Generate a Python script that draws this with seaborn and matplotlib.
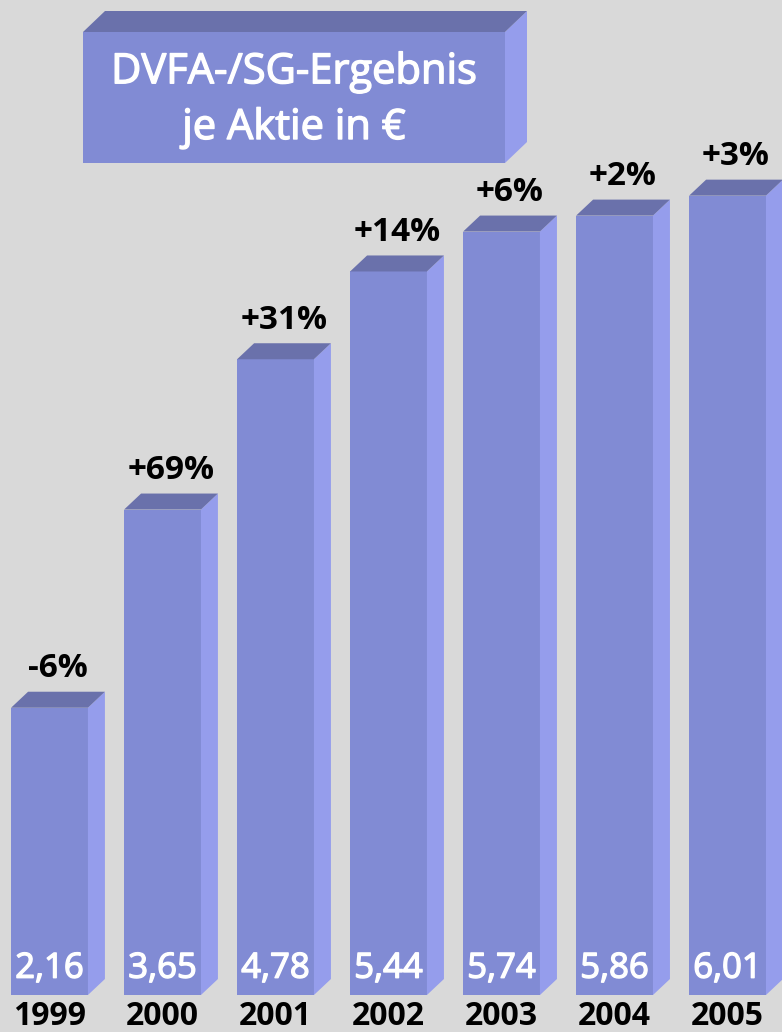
import numpy as np
import pandas as pd
import matplotlib
matplotlib.use('Agg')
import matplotlib.pyplot as plt
import matplotlib.patches as mpatches
import matplotlib.patheffects as pe
import seaborn as sns

# data
years = ['1999', '2000', '2001', '2002', '2003', '2004', '2005']
eps = [2.16, 3.65, 4.78, 5.44, 5.74, 5.86, 6.01]
change_pct = [-6, 69, 31, 14, 6, 2, 3]
title_lines = ['DVFA-/SG-Ergebnis', 'je Aktie in €']

# colours
bg = '#d9d9d9'
front = '#818bd4'
side = '#959dec'
top = '#6a71ab'

sns.set_theme(style='white')
plt.rcParams['font.family'] = ['Open Sans', 'DejaVu Sans']

W, H = 782, 1032
fig = plt.figure(figsize=(W / 100, H / 100), dpi=100, facecolor=bg)
ax = fig.add_axes([0, 0, 1, 1])
ax.set_facecolor(bg)

df = pd.DataFrame({'year': years, 'eps': eps})
sns.barplot(data=df, x='year', y='eps', color=front, saturation=1,
            width=0.68, ax=ax, linewidth=0)

# axis scaling: 113 px per category, 133 px per euro
ax.set_xlim(-0.438, 6.482)
ax.set_ylim(-0.278, 7.481)
ax.axis('off')

dx = 17 / 113
dy = 16 / 133

# thicken regular weight a bit (medium look)
white_med = [pe.withStroke(linewidth=1.0, foreground='white')]

for i, (p, v, pc) in enumerate(zip(ax.patches, eps, change_pct)):
    x0 = p.get_x()
    x1 = x0 + p.get_width()
    h = p.get_height()
    ax.add_patch(mpatches.Polygon([(x1, 0), (x1 + dx, dy), (x1 + dx, h + dy), (x1, h)],
                                  closed=True, facecolor=side, edgecolor='none'))
    ax.add_patch(mpatches.Polygon([(x0, h), (x1, h), (x1 + dx, h + dy), (x0 + dx, h + dy)],
                                  closed=True, facecolor=top, edgecolor='none'))
    cx = (x0 + x1 + dx) / 2
    ax.text(cx, h + dy + 0.05, f'{pc:+d}%', ha='center', va='bottom',
            fontsize=24, fontweight='bold', color='black')
    ax.text((x0 + x1) / 2, 0.07, f'{v:.2f}'.replace('.', ','), ha='center',
            va='bottom', fontsize=25, color='white', path_effects=white_med)
    ax.text((x0 + x1) / 2, -0.228, years[i], ha='center',
            va='baseline', fontsize=23, fontweight='bold', color='black')

# title box (pixel coordinates converted to figure fractions)
def fp(x, y):
    return (x / W, 1 - y / H)

bx0, bx1, by0, by1 = 83, 505, 32, 163
tdx, tdy = 22, 21
fig.patches.append(mpatches.Polygon([fp(bx0, by0), fp(bx1, by0), fp(bx1, by1), fp(bx0, by1)],
                                    closed=True, facecolor=front, edgecolor='none',
                                    transform=fig.transFigure))
fig.patches.append(mpatches.Polygon([fp(bx1, by0), fp(bx1 + tdx, by0 - tdy), fp(bx1 + tdx, by1 - tdy), fp(bx1, by1)],
                                    closed=True, facecolor=side, edgecolor='none',
                                    transform=fig.transFigure))
fig.patches.append(mpatches.Polygon([fp(bx0, by0), fp(bx1, by0), fp(bx1 + tdx, by0 - tdy), fp(bx0 + tdx, by0 - tdy)],
                                    closed=True, facecolor=top, edgecolor='none',
                                    transform=fig.transFigure))
fig.text(*fp(294, 72), title_lines[0], ha='center', va='center', fontsize=30,
         color='white', path_effects=white_med)
fig.text(*fp(294, 128), title_lines[1], ha='center', va='center', fontsize=30,
         color='white', path_effects=white_med)

fig.savefig('out.png', dpi=100, facecolor=bg)
